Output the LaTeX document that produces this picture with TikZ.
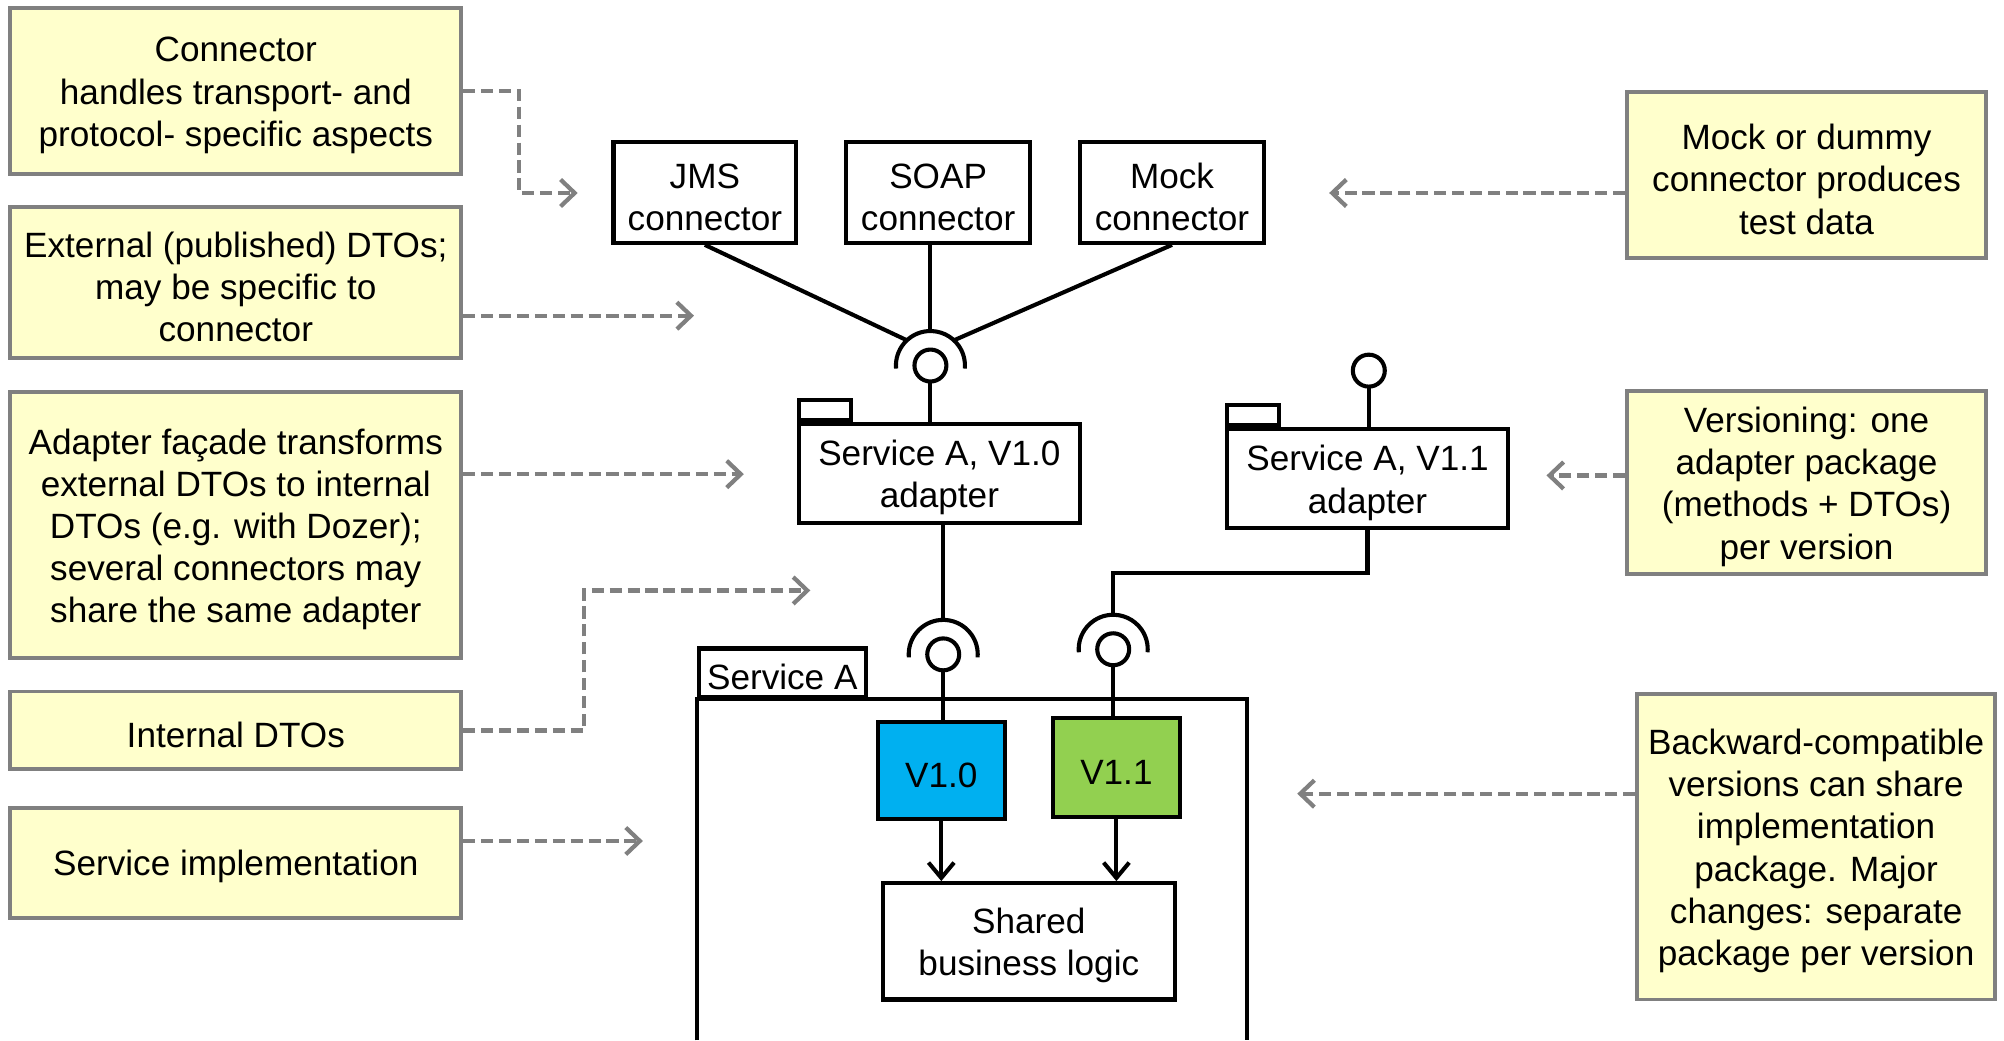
\documentclass[tikz,border=0pt]{standalone}
\usepackage{fontspec}
\setmainfont{Liberation Sans}
\usetikzlibrary{arrows.meta,calc}
\definecolor{noteyellow}{HTML}{FFFFCC}
\definecolor{notegray}{HTML}{808080}
\definecolor{vblue}{HTML}{00B0F0}
\definecolor{vgreen}{HTML}{92D050}
\newcommand\dfont{\fontsize{27.5}{33}\selectfont}
\newcommand\topstrut{\rule{0pt}{26.5pt}}
\begin{document}
\begin{tikzpicture}[x=1pt,y=-1pt,
  note/.style={draw=notegray, fill=noteyellow, line width=3pt, align=center, inner sep=0pt, font=\dfont},
  ubox/.style={draw=black, fill=white, line width=3.2pt, align=center, inner sep=0pt, font=\dfont},
  tabbox/.style={draw=black, fill=white, line width=3.2pt, inner sep=0pt},
  uline/.style={draw=black, line width=3.2pt},
  uarrow/.style={draw=black, line width=3.2pt, -{Straight Barb[length=12pt,width=20pt]}},
  dasharrow/.style={draw=notegray, line width=3.3pt, dash pattern=on 9.5pt off 4.5pt, -{Straight Barb[length=11pt,width=21pt]}},
  sock/.style={circle, minimum size=54pt, inner sep=0pt, outer sep=0pt, draw=none},
  ball/.style={circle, draw=black, fill=white, line width=3.2pt, minimum size=25pt, inner sep=0pt, outer sep=0pt}
]
\useasboundingbox[fill=white] (0,0) rectangle (1568,814);

% left notes
\node[note, minimum width=353pt, minimum height=130pt] (n1) at (184.5,71) {\topstrut Connector\\handles transport- and\\protocol- specific aspects};
\node[note, minimum width=353pt, minimum height=118pt] (n2) at (184.5,221) {\topstrut External (published) DTOs;\\may be specific to\\connector};
\node[note, minimum width=353pt, minimum height=208pt] (n3) at (184.5,411) {\topstrut Adapter façade transforms\\external DTOs to internal\\DTOs (e.g. with Dozer);\\several connectors may\\share the same adapter};
\node[note, minimum width=353pt, minimum height=61pt] (n4) at (184.5,571.5) {\topstrut Internal DTOs};
\node[note, minimum width=353pt, minimum height=86pt] (n5) at (184.5,675) {\topstrut Service implementation};
% right notes
\node[note, minimum width=281pt, minimum height=130pt] (r1) at (1413.5,137) {\topstrut Mock or dummy\\connector produces\\test data};
\node[note, minimum width=281pt, minimum height=143pt] (r2) at (1413.5,377.5) {\topstrut Versioning: one\\adapter package\\(methods + DTOs)\\per version};
\node[note, minimum width=280pt, minimum height=239pt] (r3) at (1421,662.5) {\topstrut Backward-compatible\\versions can share\\implementation\\package. Major\\changes: separate\\package per version};

% connectors
\node[ubox, minimum width=143pt, minimum height=79pt] (jms) at (551.5,150.5) {\topstrut JMS\\connector};
\node[ubox, minimum width=144pt, minimum height=79pt] (soap) at (734,150.5) {\topstrut SOAP\\connector};
\node[ubox, minimum width=144pt, minimum height=79pt] (mock) at (917,150.5) {\topstrut Mock\\connector};

% adapters
\node[ubox, minimum width=220pt, minimum height=77pt] (adA) at (735,370.5) {\topstrut Service A, V1.0\\adapter};
\node[tabbox, minimum width=41pt, minimum height=16pt, anchor=south west] (adAtab) at (adA.north west) {};
\node[ubox, minimum width=220pt, minimum height=77pt] (adB) at (1070,374.5) {\topstrut Service A, V1.1\\adapter};
\node[tabbox, minimum width=41pt, minimum height=16pt, anchor=south west] (adBtab) at (adB.north west) {};

% service A package
\node[minimum width=431pt, minimum height=267pt, anchor=north west, inner sep=0pt, outer sep=0pt] (svc) at (545,547) {};
\draw[uline] (svc.south west) -- (svc.north west) -- (svc.north east) -- (svc.south east);
\node[ubox, inner xsep=6pt, minimum width=131pt, minimum height=38pt, anchor=south west] (svctab) at (svc.north west) {\topstrut Service A};

\node[ubox, fill=vblue, minimum width=99pt, minimum height=76pt] (v10) at (736.5,603) {\topstrut V1.0};
\node[ubox, fill=vgreen, minimum width=99pt, minimum height=77pt] (v11) at (873.5,600.5) {\topstrut V1.1};
\node[ubox, minimum width=228pt, minimum height=91pt] (shared) at (805,736.5) {\topstrut Shared\\business logic};

% sockets and balls
\node[sock] (sockA) at (728,286) {};
\node[sock] (sockB) at (738,512) {};
\node[sock] (sockC) at (871,508) {};
\foreach \s in {sockA,sockB,sockC}
  \draw[uline] (\s.185) arc[start angle=185, end angle=-5, radius=27pt];

\draw[uline] (jms.south) -- (sockA.133);
\draw[uline] (sockA.north |- soap.south) -- (sockA.north);
\draw[uline] (mock.south) -- (sockA.47);

\node[ball] (ballA) at (728,286) {};
\node[ball] (ballB) at (738,512) {};
\node[ball] (ballC) at (871,508) {};
\node[ball] (ballD) at (1071,290) {};

\draw[uline] (ballA.south) -- (ballA.south |- adA.north);
\draw[uline] (sockB.north |- adA.south) -- (sockB.north);
\draw[uline] (ballB.south) -- (ballB.south |- v10.north);
\draw[uline] (ballD.south) -- (ballD.south |- adB.north);
\coordinate (k9) at (871,448);
\draw[uline] (adB.south) |- (k9) -- (sockC.north);
\draw[uline] (ballC.south) -- (ballC.south |- v11.north);

\draw[uarrow] (v10.south) -- (v10.south |- shared.north);
\draw[uarrow] (v11.south) -- (v11.south |- shared.north);

% dashed note arrows
\coordinate (k1) at (406,151);
\coordinate (t1) at (452,151);
\coordinate (t2) at (543,247);
\coordinate (t3) at (582,371);
\coordinate (k4) at (457,462);
\coordinate (t4) at (634,462);
\coordinate (t5) at (503,658);
\coordinate (t6) at (1040,151);
\coordinate (t7) at (1210,372);
\coordinate (t8) at (1015,621);
\draw[dasharrow] (n1.east) -| (k1) -- (t1);
\draw[dasharrow] (n2.east |- t2) -- (t2);
\draw[dasharrow] (n3.east |- t3) -- (t3);
\draw[dasharrow] (n4.east) -| (k4) -- (t4);
\draw[dasharrow] (n5.east |- t5) -- (t5);
\draw[dasharrow] (r1.west |- t6) -- (t6);
\draw[dasharrow] (r2.west |- t7) -- (t7);
\draw[dasharrow] (r3.west |- t8) -- (t8);
\end{tikzpicture}
\end{document}
